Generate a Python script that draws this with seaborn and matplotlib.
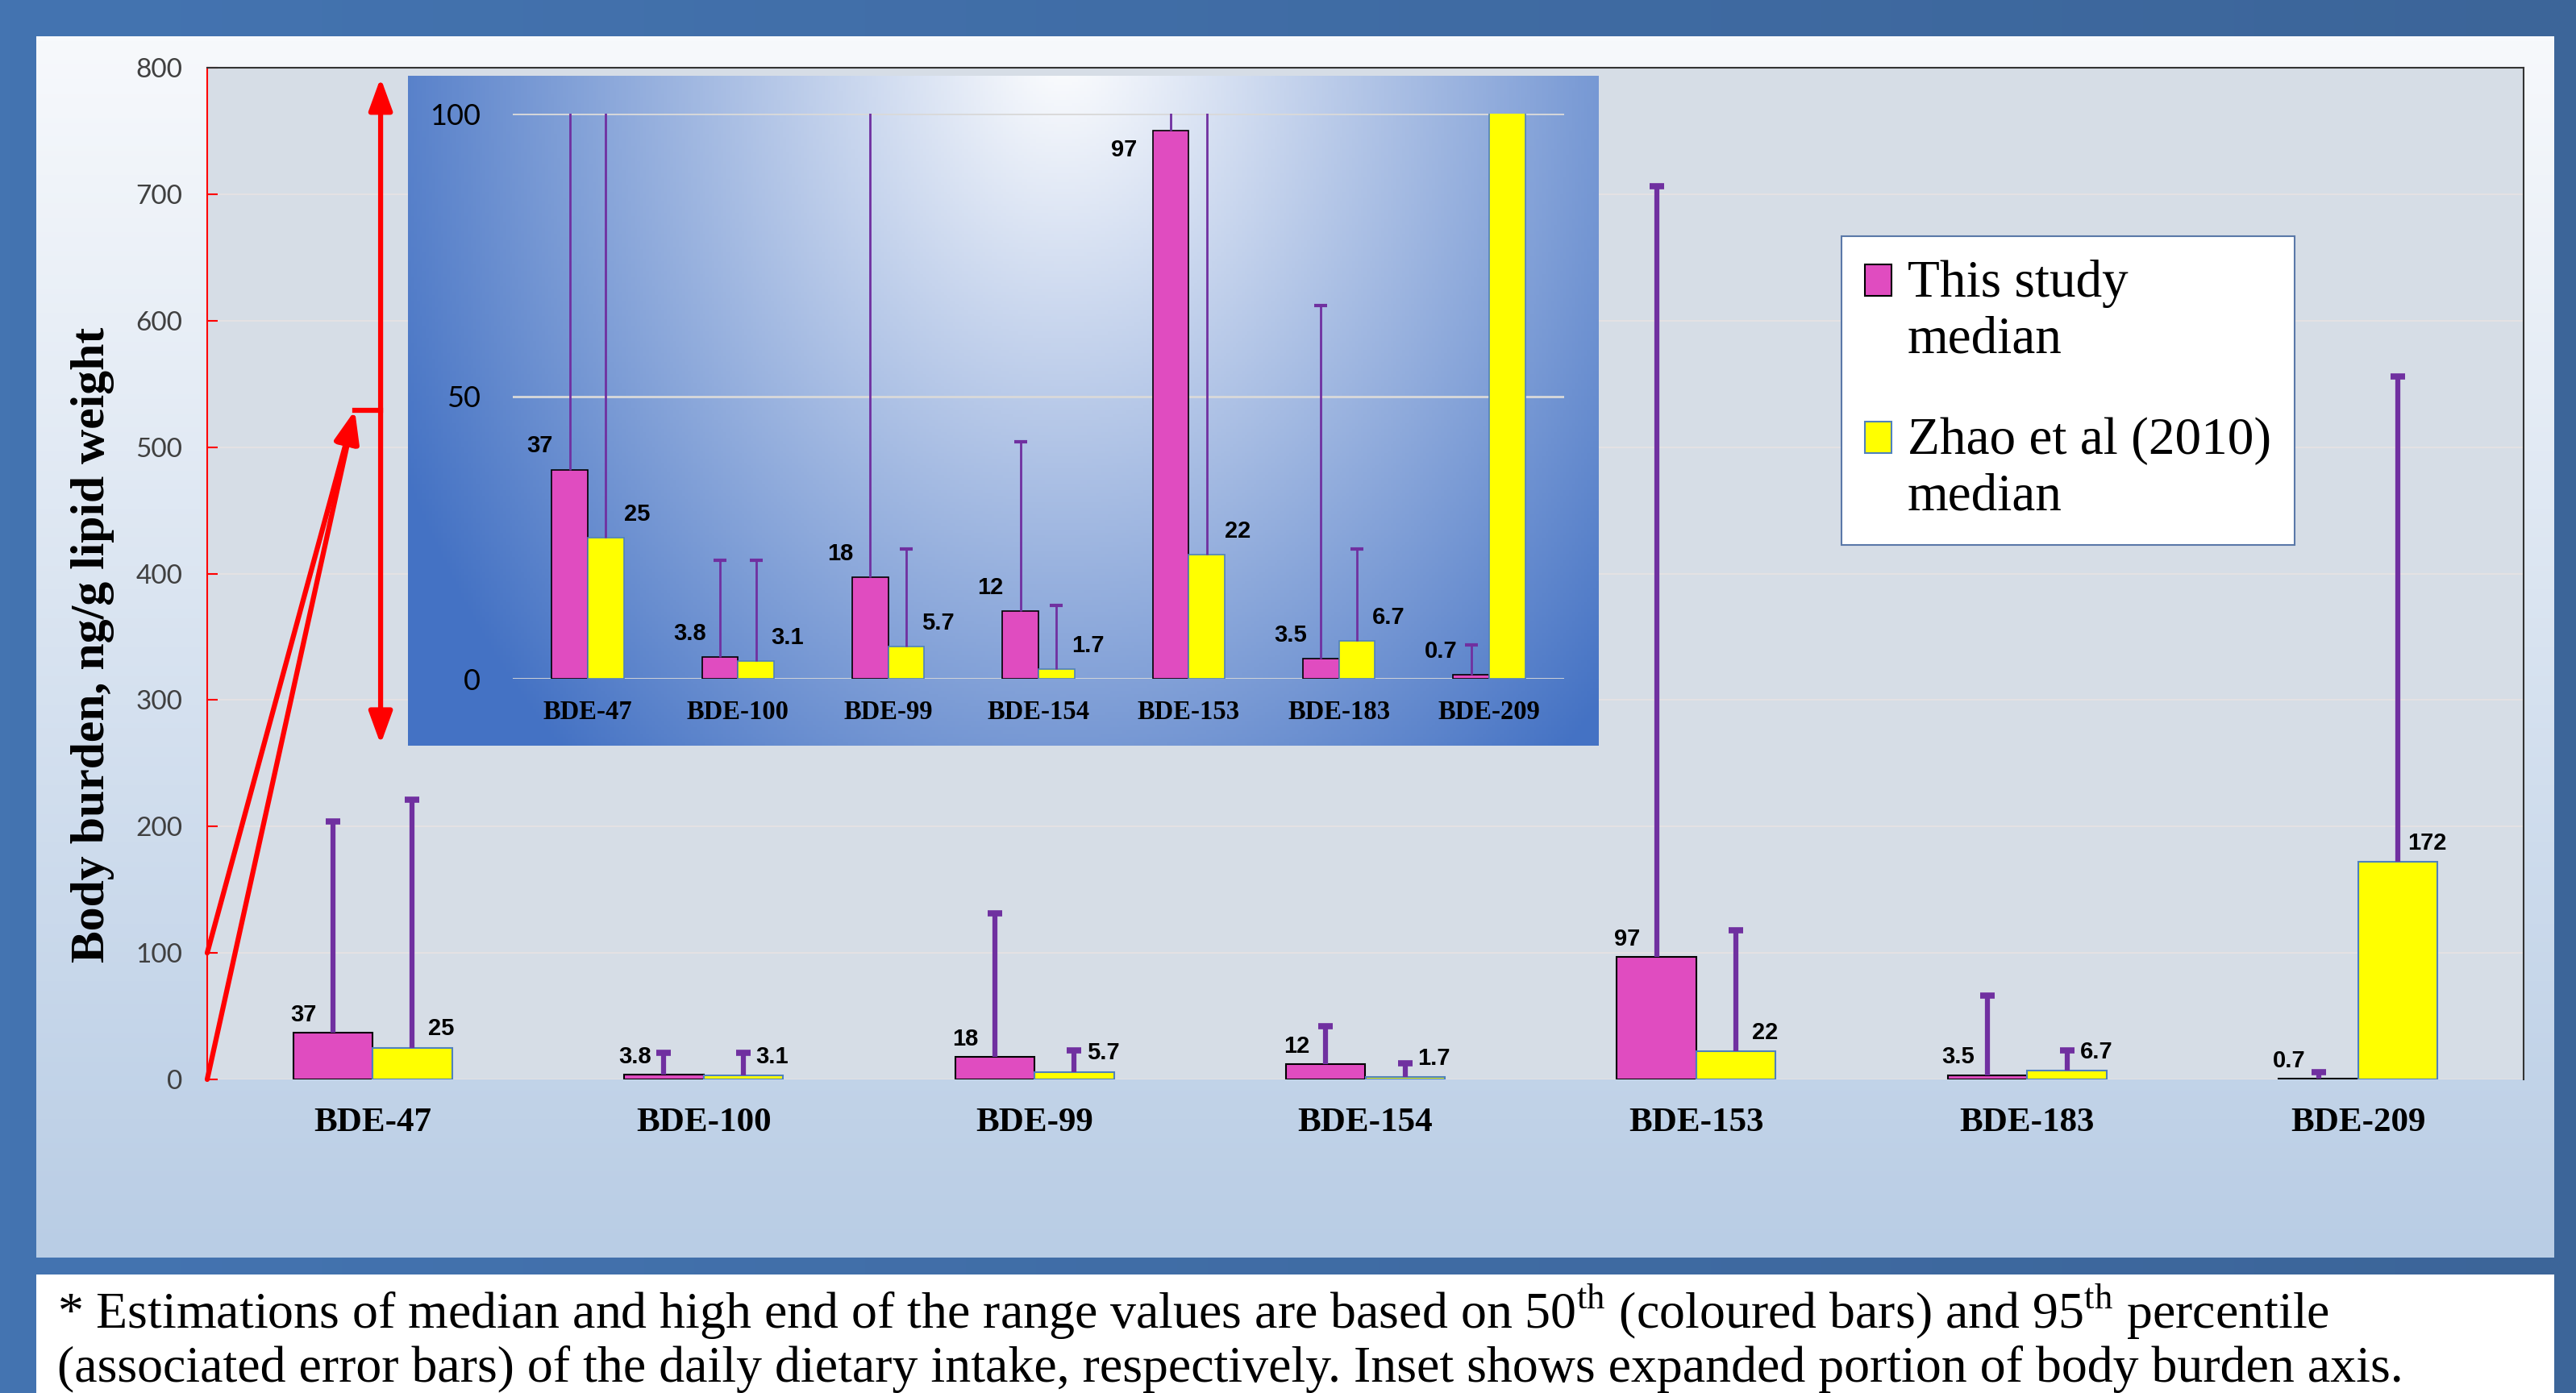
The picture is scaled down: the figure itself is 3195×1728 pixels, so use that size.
import numpy as np
import pandas as pd
import seaborn as sns
import matplotlib.pyplot as plt
import matplotlib.colors as mcolors
from matplotlib.patches import Rectangle
from matplotlib.legend_handler import HandlerPatch

# data
congeners = ['BDE-47', 'BDE-100', 'BDE-99', 'BDE-154', 'BDE-153', 'BDE-183', 'BDE-209']
series = ['This study\nmedian', 'Zhao et al (2010)\nmedian']
this_median = [37, 3.8, 18, 12, 97, 3.5, 0.7]
zhao_median = [25, 3.1, 5.7, 1.7, 22, 6.7, 172]
this_p95 = [204, 21, 131, 42, 706, 66, 6]
zhao_p95 = [221, 21, 23, 13, 118, 23, 556]
this_labels = ['37', '3.8', '18', '12', '97', '3.5', '0.7']
zhao_labels = ['25', '3.1', '5.7', '1.7', '22', '6.7', '172']
main_yticks = [0, 100, 200, 300, 400, 500, 600, 700, 800]
inset_yticks = [0, 50, 100]
footnote = ['* Estimations of median and high end of the range values are based on 50$^{\\mathrm{th}}$ '
            '(coloured bars) and 95$^{\\mathrm{th}}$ percentile',
            '(associated error bars) of the daily dietary intake, respectively. Inset shows expanded '
            'portion of body burden axis.']

df = pd.DataFrame({
    'congener': congeners * 2,
    'source': [series[0]] * 7 + [series[1]] * 7,
    'median': this_median + zhao_median,
})

PINK = '#e04cc0'
YELLOW = '#ffff00'
PURPLE = '#7030a0'
RED = '#ff0000'
SERIF = 'Liberation Serif'
NARROW = ['Liberation Sans Narrow', 'Liberation Sans']

plt.rcParams['mathtext.fontset'] = 'custom'
plt.rcParams['mathtext.rm'] = SERIF

W, H = 3195, 1728
fig = plt.figure(figsize=(W / 100, H / 100), dpi=100, facecolor='#4170ab')


def fbox(x0, y0, x1, y1):
    # pixel box (top-left origin) -> figure fraction rect
    return [x0 / W, 1 - y1 / H, (x1 - x0) / W, (y1 - y0) / H]


# outer slight gradient
ax_out = fig.add_axes([0, 0, 1, 1], zorder=-2)
g = np.linspace(0, 1, 256)[None, :, None]
c1, c2 = np.array(mcolors.to_rgb('#4474b1')), np.array(mcolors.to_rgb('#3c6599'))
ax_out.imshow(c1 * (1 - g) + c2 * g, aspect='auto', extent=[0, 1, 0, 1])
ax_out.set_axis_off()

# light panel behind chart
ax_bg = fig.add_axes(fbox(45, 45, 3168, 1560), zorder=-1)
v = np.linspace(0, 1, 256)[:, None, None]
top, bot = np.array(mcolors.to_rgb('#f7f9fc')), np.array(mcolors.to_rgb('#b9cde5'))
ax_bg.imshow(top * (1 - v) + bot * v, aspect='auto', extent=[0, 1, 0, 1])
ax_bg.set_axis_off()

# footnote box
fig.add_artist(Rectangle((45 / W, 0), 3123 / W, (H - 1581) / H, transform=fig.transFigure,
                         facecolor='white', edgecolor='none', zorder=-1))
fig.text(71 / W, 1 - 1648 / H, footnote[0], fontsize=46, family=SERIF, va='baseline')
fig.text(71 / W, 1 - 1714 / H, footnote[1], fontsize=46, family=SERIF, va='baseline')


def draw(ax, lw_err, cap_ms, cap_mew, edge_lw):
    sns.barplot(data=df, x='congener', y='median', hue='source', order=congeners,
                hue_order=series, palette=[PINK, YELLOW], width=0.48, errorbar=None,
                saturation=1, legend=False, ax=ax, zorder=2)
    for cont, ec, p95 in zip(ax.containers, ['black', '#4f81bd'], [this_p95, zhao_p95]):
        xs, hs = [], []
        for b in cont:
            b.set_edgecolor(ec)
            b.set_linewidth(edge_lw)
            xs.append(b.get_x() + b.get_width() / 2)
            hs.append(b.get_height())
        ax.vlines(xs, hs, p95, color=PURPLE, lw=lw_err, zorder=3)
        ax.plot(xs, p95, ls='none', marker='_', ms=cap_ms, mew=cap_mew, color=PURPLE, zorder=3)
    ax.set_xlim(-0.5, 6.5)
    ax.set_xlabel('')
    ax.set_ylabel('')


# main chart
ax = fig.add_axes(fbox(257, 84, 3130, 1339), zorder=1)
ax.set_facecolor('#d6dde6')
draw(ax, 4.5, 13, 5.5, 1.5)
ax.set_ylim(0, 800)
ax.set_yticks(main_yticks)
ax.yaxis.grid(True, color='#e4e1e3', lw=1.5, zorder=0)
ax.set_axisbelow(True)
ax.tick_params(axis='y', direction='in', length=9, width=1.5, color=RED, pad=22,
               labelsize=24, labelcolor='#404040')
for t in ax.get_yticklabels():
    t.set_family('Lato')
ax.tick_params(axis='x', length=0, pad=25, labelsize=31)
for t in ax.get_xticklabels():
    t.set_family(SERIF)
    t.set_weight('bold')
ax.spines['left'].set_color(RED)
ax.spines['left'].set_linewidth(1.5)
for s in ['top', 'right']:
    ax.spines[s].set_color('#333333')
    ax.spines[s].set_linewidth(1.5)
ax.spines['bottom'].set_visible(False)
ax.set_ylabel('Body burden, ng/g lipid weight', family=SERIF, weight='bold', fontsize=43)
ax.yaxis.set_label_coords(-0.040, 0.43)

for cont, labs, dx, dy in zip(ax.containers, [this_labels, zhao_labels], [-26, 26], [16, 17]):
    for b, lab in zip(cont, labs):
        ax.annotate(lab, (b.get_x() + b.get_width() / 2, b.get_height()), xytext=(dx, dy),
                    textcoords='offset points', ha='center', va='center', fontsize=21,
                    family=NARROW, weight='bold', zorder=4)


def top_square(legend, orig_handle, xdescent, ydescent, width, height, fontsize):
    # put the swatch beside the first line of a two-line label
    return Rectangle((-xdescent, -ydescent + 0.6 * fontsize), width, height)


handles = [c.patches[0] for c in ax.containers]
leg = ax.legend(handles, series, loc='upper left', bbox_to_anchor=(2284 / W, 1 - 293 / H),
                bbox_transform=fig.transFigure, prop={'family': SERIF, 'size': 47},
                frameon=True, fancybox=False, edgecolor='#5a78a8', facecolor='white',
                framealpha=1, handlelength=0.5, handleheight=0.55, handletextpad=0.3,
                labelspacing=1.0, borderpad=0.45, borderaxespad=0,
                handler_map={Rectangle: HandlerPatch(patch_func=top_square)})
leg.get_frame().set_linewidth(1.5)
for t in leg.get_texts():
    t.set_linespacing(1.22)

# red pointer arrows
head = dict(color=RED, lw=4.5, shrinkA=0, shrinkB=0, mutation_scale=22)
ax.annotate('', xy=(-0.054, 529), xytext=(-0.5, 100), annotation_clip=False,
            arrowprops=dict(arrowstyle='-|>,head_width=0.4,head_length=1.1', **head))
ax.annotate('', xy=(-0.054, 529), xytext=(-0.5, 0), annotation_clip=False,
            arrowprops=dict(arrowstyle='-|>,head_width=0.4,head_length=1.1', **head))
ax.plot([-0.054, 0.024], [529, 529], color=RED, lw=4.5, zorder=5)
ax.annotate('', xy=(0.024, 792), xytext=(0.024, 265), annotation_clip=False,
            arrowprops=dict(arrowstyle='<|-|>,head_width=0.4,head_length=1.1', **head))

# inset background (radial glow)
ax_ibg = fig.add_axes(fbox(506, 94, 1983, 925), zorder=2)
yy, xx = np.mgrid[0:1:220j, 0:1:400j]
d = np.sqrt(((xx - 0.55) / 0.62) ** 2 + ((yy + 0.05) / 1.45) ** 2)
t = np.clip(d, 0, 1)[..., None] ** 1.0
blue = np.array(mcolors.to_rgb('#4472c4'))
ax_ibg.imshow(np.ones(3) * (1 - t) + blue * t, aspect='auto', extent=[0, 1, 0, 1])
ax_ibg.set_axis_off()

# inset chart
ax_in = fig.add_axes(fbox(636, 141, 1940, 842), zorder=3)
ax_in.patch.set_alpha(0)
draw(ax_in, 2.0, 12, 3, 1.2)
ax_in.set_ylim(0, 100)
ax_in.set_yticks(inset_yticks)
ax_in.yaxis.grid(True, color='#d9d9d9', lw=2, zorder=0)
ax_in.set_axisbelow(True)
for s in ax_in.spines.values():
    s.set_visible(False)
ax_in.tick_params(axis='y', length=0, pad=29, labelsize=26, labelcolor='black')
for tl in ax_in.get_yticklabels():
    tl.set_family('Lato')
ax_in.tick_params(axis='x', length=0, pad=19, labelsize=23.5)
for tl in ax_in.get_xticklabels():
    tl.set_family(SERIF)
    tl.set_weight('bold')

for cont, labs, dx in zip(ax_in.containers, [this_labels, zhao_labels], [-27, 28]):
    for b, lab in zip(cont, labs):
        h = b.get_height()
        if h > 100:
            continue
        dy = 21
        ddx = dx
        if h > 90:
            dy, ddx = -17, dx * 1.55
        ax_in.annotate(lab, (b.get_x() + b.get_width() / 2, h), xytext=(ddx, dy),
                       textcoords='offset points', ha='center', va='center', fontsize=21,
                       family=NARROW, weight='bold', zorder=4)

fig.savefig('out.png', dpi=100, facecolor=fig.get_facecolor())
